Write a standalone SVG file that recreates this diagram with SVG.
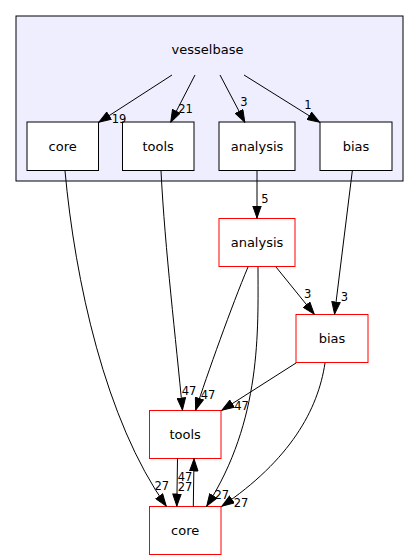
<svg xmlns="http://www.w3.org/2000/svg" width="419" height="560" viewBox="0 0 419 560">
<style>
text{font-family:"DejaVu Sans","Liberation Sans",sans-serif;fill:#000}
.nl{font-size:13px;text-anchor:middle}
.el{font-size:11.5px;text-anchor:middle}
.n rect{fill:#fff;stroke:#000;stroke-width:1}
.r rect{fill:#fff;stroke:#ff0000;stroke-width:1}
.e path{fill:none;stroke:#000;stroke-width:1;marker-end:url(#ah)}
</style>
<defs>
<marker id="ah" viewBox="0 0 13 9.4" refX="13" refY="4.7" markerWidth="13" markerHeight="9.4" markerUnits="userSpaceOnUse" orient="auto">
<path d="M0.5,0.5 L12.5,4.7 L0.5,8.9 z" fill="#000" stroke="#000" stroke-width="1"/>
</marker>
</defs>
<rect width="419" height="560" fill="#fff"/>
<g id="cluster_vesselbase">
<rect x="16" y="16" width="387" height="165" fill="#eeeeff" stroke="#000" stroke-width="1"/>
<text class="nl" x="207.5" y="54">vesselbase</text>
</g>
<g id="node_vb_core" class="n"><rect x="27" y="122" width="71.5" height="48.5"/><text class="nl" x="62.7" y="150.5">core</text></g>
<g id="node_vb_tools" class="n"><rect x="122.5" y="122" width="71.5" height="48.5"/><text class="nl" x="158.2" y="150.5">tools</text></g>
<g id="node_vb_analysis" class="n"><rect x="219" y="122" width="76" height="48.5"/><text class="nl" x="257" y="150.5">analysis</text></g>
<g id="node_vb_bias" class="n"><rect x="320" y="122" width="72" height="48.5"/><text class="nl" x="356" y="150.5">bias</text></g>
<g id="node_analysis" class="r"><rect x="219" y="218.5" width="76" height="48"/><text class="nl" x="257" y="246.5">analysis</text></g>
<g id="node_bias" class="r"><rect x="296" y="314.5" width="72" height="48"/><text class="nl" x="332" y="342.5">bias</text></g>
<g id="node_tools" class="r"><rect x="149.5" y="410.5" width="71.5" height="48"/><text class="nl" x="185.2" y="438.5">tools</text></g>
<g id="node_core" class="r"><rect x="149.5" y="506.5" width="71.5" height="48"/><text class="nl" x="185.2" y="534.5">core</text></g>
<g id="connectors" class="e">
<path d="M172,75 L98.5,122.5"/>
<path d="M195,75 L170.5,122.5"/>
<path d="M220,75 L245,122.5"/>
<path d="M244,75 L320,122.5"/>
<path d="M257,171 L257,218.5"/>
<path d="M352.3,171 L334.5,314.5"/>
<path d="M276,267 L314.5,314.5"/>
<path d="M65,171 C75,280 105,420 166.5,506.5"/>
<path d="M161,171 C165,250 176,340 182.5,410.5"/>
<path d="M248,267 C232,305 207,375 195.5,410.5"/>
<path d="M258,267 C258,330 262,420 206.5,506.5"/>
<path d="M296,363 L221.5,410.5"/>
<path d="M325,363 C318,410 290,460 221.5,506.5"/>
<path d="M177.5,458.5 L176.8,506.5"/>
<path d="M193.3,506.5 L194,458.5"/>
</g>
<g id="edge_labels">
<text class="el" x="119" y="122.5">19</text>
<text class="el" x="185.5" y="113.3">21</text>
<text class="el" x="244" y="106">3</text>
<text class="el" x="308" y="109.3">1</text>
<text class="el" x="265" y="203.3">5</text>
<text class="el" x="344.5" y="300.7">3</text>
<text class="el" x="307.7" y="297.7">3</text>
<text class="el" x="189" y="395">47</text>
<text class="el" x="208" y="399.3">47</text>
<text class="el" x="241.5" y="410">47</text>
<text class="el" x="161.7" y="490">27</text>
<text class="el" x="185" y="480.5">47</text>
<text class="el" x="185" y="490.7">27</text>
<text class="el" x="221.7" y="499.3">27</text>
<text class="el" x="241" y="506.7">27</text>
</g>
</svg>
